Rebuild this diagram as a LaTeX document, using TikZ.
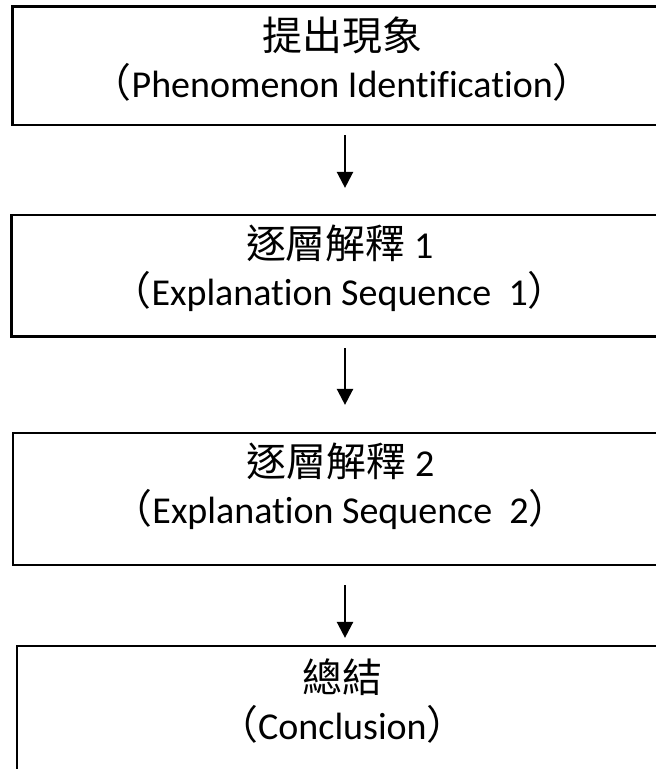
\documentclass[tikz,border=0pt]{standalone}
\usepackage{fontspec}
\setmainfont{Carlito}[Ligatures={NoCommon}]
\newfontfamily\cjk{Noto Sans CJK TC}[Scale=1.05]
\usepackage{tikz}
\usetikzlibrary{arrows.meta}

\begin{document}
\begin{tikzpicture}[x=1pt,y=-1pt]
    \tikzstyle{stage}=[draw,line width=2.2pt,rectangle,inner sep=0pt]
    \tikzstyle{caption}=[align=center,font=\fontsize{38}{47}\selectfont,inner sep=0pt]
    \tikzstyle{flow}=[line width=2.4pt,-{Triangle[width=16pt,length=16pt]}]
    \useasboundingbox (0,0) rectangle (656,769);
    \clip (0,0) rectangle (656,769);
    % Draw the stage boxes (they run past the right and bottom edge)
    \node[stage,minimum width=655.5pt,minimum height=118.5pt] (b1) at (340.25,65.75) {};
    \node[stage,minimum width=656.5pt,minimum height=121.5pt] (b2) at (339.75,275.75) {};
    \node[stage,minimum width=654.7pt,minimum height=132pt] (b3) at (340.65,499) {};
    \node[stage,minimum width=651pt,minimum height=144pt] (b4) at (342.5,718) {};
    % Put the two lines of text in each box
    \node[caption] (t1) at ([shift={(2,53.5)}]b1.north) {{\cjk 提出現象}\\{\cjk （}Phenomenon Identification{\cjk ）}};
    \node[caption] (t2) at ([shift={(0,54.5)}]b2.north) {{\cjk 逐層解釋} 1\\{\cjk （}Explanation Sequence~\ 1{\cjk ）}};
    \node[caption] (t3) at ([shift={(0,54.5)}]b3.north) {{\cjk 逐層解釋} 2\\{\cjk （}Explanation Sequence~\ 2{\cjk ）}};
    \node[caption] (t4) at ([shift={(0,56)}]b4.north) {{\cjk 總結}\\{\cjk （}Conclusion{\cjk ）}};
    % Draw the arrows between the boxes
    \draw[flow] ([shift={(4.75,9)}]b1.south) -- ([shift={(5.25,-26)}]b2.north);
    \draw[flow] ([shift={(5.25,10.5)}]b2.south) -- ([shift={(4.35,-27)}]b3.north);
    \draw[flow] ([shift={(4.35,19)}]b3.south) -- ([shift={(2.5,-7)}]b4.north);
\end{tikzpicture}
\end{document}
